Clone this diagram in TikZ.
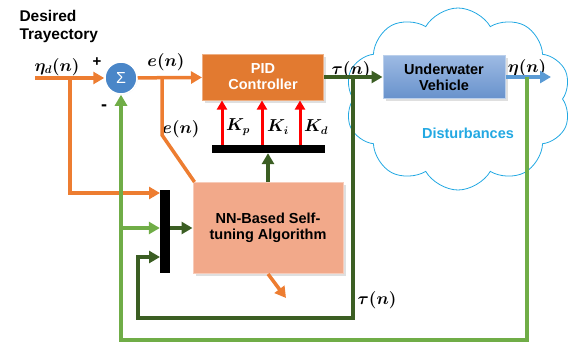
\documentclass[tikz,border=0pt]{standalone}
\usepackage{fontspec}
\setmainfont{Liberation Sans}
\usetikzlibrary{arrows.meta,shapes.symbols,shadows}

\definecolor{lineorange}{HTML}{ED7D31}
\definecolor{linedgreen}{HTML}{3B5E23}
\definecolor{linelgreen}{HTML}{70AD47}
\definecolor{pidorange}{HTML}{E27A30}
\definecolor{nnsalmon}{HTML}{F2A98A}
\definecolor{uvtop}{HTML}{9DBAE3}
\definecolor{uvbottom}{HTML}{6892CC}
\definecolor{sumblue}{HTML}{4A86C8}
\definecolor{cloudblue}{HTML}{22A8E2}
\definecolor{outblue}{HTML}{5B9BD5}

\begin{document}
\begin{tikzpicture}[x=1pt, y=-1pt, font=\bfseries,
    bigtip/.style={-{Triangle[length=11pt,width=12pt]}},
    orangeline/.style={draw=lineorange, line width=3.5pt},
    dgreenline/.style={draw=linedgreen, line width=3.5pt},
    lgreenline/.style={draw=linelgreen, line width=3.5pt},
    redarrow/.style={draw=red, line width=3pt, -{Triangle[length=9pt,width=10pt]}},
    boxtext/.style={align=center, font=\fontsize{14.5}{16}\selectfont\bfseries},
    mathlabel/.style={font=\fontsize{16}{17}\selectfont\boldmath},
    blackbar/.style={fill=black, inner sep=0pt}
]
\useasboundingbox (0,0) rectangle (570,343);

\node[cloud, cloud puffs=10, cloud puff arc=120, aspect=1.25, draw=cloudblue, line width=0.8pt,
    minimum width=226pt, minimum height=182pt] (dist) at (458,99) {};
\node[font=\fontsize{14.5}{16}\selectfont\bfseries, text=cloudblue] (disttext) at (468,133) {Disturbances};

\node[circle, fill=sumblue, draw=white, line width=1.5pt, minimum size=32pt, inner sep=0pt,
    drop shadow={opacity=0.3, shadow xshift=0.5pt, shadow yshift=-0.5pt}, text=white,
    font=\fontsize{16}{16}\selectfont\mdseries] (sum) at (121,78) {Σ};
\node[boxtext, fill=pidorange, draw=pidorange!60, line width=1pt, text=white,
    minimum width=121pt, minimum height=46pt, drop shadow={opacity=0.25}] (pid) at (263,77) {PID\\Controller};
\node[boxtext, top color=uvtop, bottom color=uvbottom, draw=uvtop!70, line width=1pt,
    minimum width=122pt, minimum height=43pt, drop shadow={opacity=0.25}] (uv) at (444,77) {Underwater\\Vehicle};
\node[boxtext, fill=nnsalmon, draw=nnsalmon!60, line width=1pt,
    minimum width=150pt, minimum height=91pt, drop shadow={opacity=0.25}] (nn) at (268,228) {NN-Based Self-\\tuning Algorithm};
\node[blackbar, minimum width=113pt, minimum height=8pt] (gbar) at (268,149) {};
\node[blackbar, minimum width=10pt, minimum height=83pt] (vbar) at (165,231) {};

\node[align=left, anchor=north west, font=\fontsize{15.5}{18}\selectfont\bfseries] (desired) at (16,7) {Desired\\Trayectory};
\node[mathlabel] (etad) at (57,67) {$\eta_d(n)$};
\node[font=\fontsize{15}{17}\selectfont\bfseries] (plus) at (97,62) {+};
\node[font=\fontsize{18}{17}\selectfont\bfseries] (minus) at (104,108) {-};
\node[mathlabel] (e1) at (166,62) {$e(n)$};
\node[mathlabel] (e2) at (181,129) {$e(n)$};
\node[mathlabel] (tau1) at (351,70) {$\tau(n)$};
\node[mathlabel] (eta) at (527,68) {$\eta(n)$};
\node[mathlabel] (tau2) at (377,300) {$\tau(n)$};

\coordinate (in) at (35,78);
\coordinate (inbr) at (70,78);
\coordinate (inbar) at (160,193);
\coordinate (ebr) at (162,78);
\coordinate (ebend) at (162,135);
\coordinate (nnout) at (286,298);
\coordinate (tbr) at (353,77);
\coordinate (tcorner) at (138,318);
\coordinate (tbar) at (160,257);
\coordinate (out) at (551,77);
\coordinate (obr) at (527,77);
\coordinate (gcorner) at (121,340);
\coordinate (gbr) at (121,228);

\draw[orangeline, bigtip] (in) -- (sum);
\draw[orangeline, bigtip] (inbr) |- (inbar);
\draw[orangeline, bigtip] (sum) -- (pid);
\draw[orangeline] (ebr) -- (ebend) -- ([xshift=2pt]nn.north west);
\draw[orangeline, bigtip] (nn.south) -- (nnout);

\foreach \x/\k in {222/p, 262/i, 300/d}{
    \draw[redarrow] (gbar.north -| \x,0) -- (pid.south -| \x,0);
    \node[mathlabel] (k\k) at ({\x+16},127) {$K_\k$};
}

\draw[dgreenline, bigtip] (nn.north) -- (gbar.south);
\draw[dgreenline, bigtip] (vbar.east |- nn.west) -- (nn.west);
\draw[dgreenline, bigtip] (pid) -- (uv);
\draw[dgreenline, bigtip] (tbr) |- (tcorner) |- (tbar);

\draw[draw=outblue, line width=4pt, bigtip] (uv) -- (out);
\draw[lgreenline, bigtip] (obr) |- (gcorner) -- (sum);
\draw[lgreenline, bigtip] (gbr) -- (vbar.west |- gbr);

\end{tikzpicture}
\end{document}
